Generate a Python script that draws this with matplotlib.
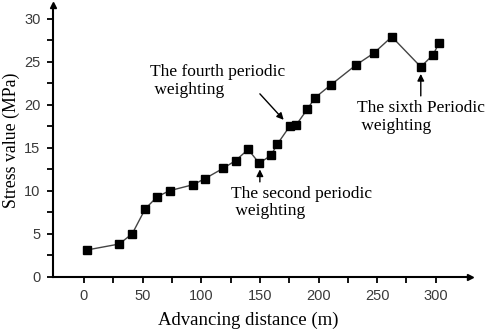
import numpy as np
import matplotlib.pyplot as plt

# advancing distance (m) and stress value (MPa)
distance = [2.3, 30.1, 41.2, 52.3, 62.5, 73.0, 93.2, 103.1, 118.7, 129.3,
            140.0, 149.4, 159.4, 164.8, 175.5, 180.7, 190.6, 196.9, 210.5,
            231.8, 247.2, 262.5, 287.2, 297.7, 302.8]
stress = [3.1, 3.8, 5.0, 7.9, 9.3, 10.0, 10.7, 11.4, 12.6, 13.5,
          14.8, 13.2, 14.1, 15.4, 17.5, 17.6, 19.5, 20.8, 22.3,
          24.6, 26.0, 27.9, 24.4, 25.8, 27.2]

x_ticks = [0, 50, 100, 150, 200, 250, 300]
y_ticks = [0, 5, 10, 15, 20, 25, 30]

serif = "Liberation Serif"
sans = "Liberation Sans"

fig = plt.figure(figsize=(4.98, 3.29), dpi=100)
ax = fig.add_axes([0.1064, 0.159, 0.837, 0.826])

ax.plot(distance, stress, color="#444444", lw=1.0, marker="s", ms=6,
        mfc="black", mec="black", zorder=3)

ax.set_xlim(-26.4, 329)
ax.set_ylim(0, 31.6)

for s in ["top", "right"]:
    ax.spines[s].set_visible(False)
for s in ["left", "bottom"]:
    ax.spines[s].set_linewidth(1.5)
    ax.spines[s].set_color("black")

# arrow heads at the ends of the axes
ax.plot(1, 0, ">", color="black", ms=5, transform=ax.transAxes, clip_on=False)
ax.plot(0, 1, "^", color="black", ms=5, transform=ax.transAxes, clip_on=False)

ax.set_xticks(x_ticks)
ax.set_xticks(np.arange(25, 300, 50), minor=True)
ax.set_yticks(y_ticks)
ax.set_yticks(np.arange(2.5, 30, 5), minor=True)
ax.tick_params(which="both", direction="out", length=4, width=1.3, color="black")
ax.tick_params(labelsize=10.5, labelcolor="#3a3a3a", pad=5)
for lab in ax.get_xticklabels() + ax.get_yticklabels():
    lab.set_fontfamily(sans)

ax.set_xlabel("Advancing distance (m)", fontsize=13.5, family=serif)
ax.xaxis.set_label_coords(0.468, -0.128)
ax.set_ylabel("Stress value (MPa)", fontsize=12.8, family=serif, labelpad=3)

arrow = dict(arrowstyle="-|>", color="black", lw=1.0, mutation_scale=10)

ax.text(56.3, 24.7, "The fourth periodic\n weighting", fontsize=12.5,
        family=serif, ha="left", va="top", linespacing=1.15)
ax.annotate("", xy=(171.9, 18.0), xytext=(148.4, 21.5), arrowprops=arrow)

ax.text(125.3, 10.6, "The second periodic\n weighting", fontsize=12.5,
        family=serif, ha="left", va="top", linespacing=1.15)
ax.annotate("", xy=(150, 12.8), xytext=(150, 10.7), arrowprops=arrow)

ax.text(232.4, 20.5, "The sixth Periodic\n weighting", fontsize=12.5,
        family=serif, ha="left", va="top", linespacing=1.15)
ax.annotate("", xy=(287.2, 23.9), xytext=(287.2, 20.7), arrowprops=arrow)

fig.savefig("out.png", dpi=100)
